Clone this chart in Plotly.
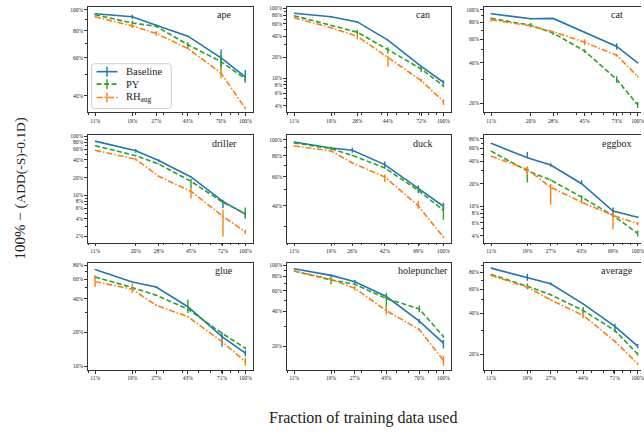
import math
import plotly.graph_objects as go

OBJECTS = ["ape", "can", "cat", "driller", "duck", "eggbox", "glue", "holepuncher", "average"]

X_TICKS = [
    [11, 19, 27, 43, 70, 100],
    [11, 19, 28, 44, 72, 100],
    [11, 20, 28, 45, 73, 100],
    [11, 20, 28, 45, 72, 100],
    [11, 19, 26, 42, 69, 100],
    [11, 19, 27, 43, 69, 100],
    [11, 19, 27, 43, 71, 100],
    [11, 19, 27, 43, 70, 100],
    [11, 19, 27, 44, 71, 100],
]

BASELINE = [
    [96, 93, 85, 75.6, 60, 49],
    [85.5, 76, 64, 35, 14.7, 8.7],
    [93, 85.4, 85.9, 67.5, 53, 40],
    [83, 57, 39, 20.5, 7.9, 4.8],
    [96.8, 89, 86.3, 70.8, 51, 39.8],
    [70, 44.7, 35.8, 20, 8.6, 7.1],
    [73.2, 56.6, 51, 34, 18.4, 13.1],
    [93, 81.6, 72, 53.7, 33, 21.4],
    [85.6, 72.7, 65.7, 46.8, 31.9, 22.9],
]
BASELINE_ERR_UP = [
    [0.5, 2, 0.5, 0.5, 5.6, 3.7],
    [0.5, 2, 2, 0.3, 0.3, 0.6],
    [0.5, 1, 0.5, 1, 3, 0.5],
    [0.5, 4, 2, 0.3, 0.5, 0.5],
    [0.5, 1.5, 3, 3, 2, 2],
    [0.5, 8.7, 2, 2.3, 1, 0.2],
    [0.5, 0.5, 1, 0.5, 1, 0.8],
    [0.5, 1.5, 2.5, 2, 1.5, 1.5],
    [0.5, 5, 1.5, 0.5, 1.5, 0.8],
]
BASELINE_ERR_DN = [
    [0.5, 2, 0.5, 0.5, 5.4, 2.4],
    [0.5, 2, 2, 0.3, 0.3, 0.6],
    [0.5, 1, 0.5, 1, 3, 0.5],
    [0.5, 4, 2, 0.3, 1.8, 0.8],
    [0.5, 1.5, 3, 3, 2, 2],
    [0.5, 0.2, 2, 0.2, 0.7, 0.2],
    [0.5, 0.5, 1, 0.5, 3.5, 0.8],
    [0.5, 1.5, 2.5, 2, 1.5, 2.2],
    [0.5, 3.5, 1.5, 0.5, 1.5, 0.8],
]

PY = [
    [95, 87, 84, 69, 57.6, 48],
    [78.6, 57.4, 45.6, 25.6, 13.5, 7.7],
    [86, 76.4, 66.7, 49, 30, 19.4],
    [69.5, 47, 34, 17.3, 7.6, 4.9],
    [95.5, 88.3, 80.5, 67.6, 49.6, 37.6],
    [54.9, 29.8, 22.4, 13.2, 7.5, 4.3],
    [62.6, 50.5, 43, 32.4, 19.7, 14.5],
    [88.9, 74.5, 68.4, 51.6, 42, 24.3],
    [76.9, 63, 54.6, 41.8, 29.8, 20],
]
PY_ERR_UP = [
    [0.5, 2, 0.5, 2, 4, 1.5],
    [0.5, 0.5, 3.5, 2, 1.1, 0.3],
    [1, 3, 2, 1.5, 1.7, 1],
    [0.5, 0.5, 0.5, 1.7, 0.3, 1.3],
    [0.5, 2, 0.5, 0.5, 2, 3],
    [0.5, 3.7, 0.5, 0.7, 0.3, 0.4],
    [2, 0.5, 0.5, 7, 0.5, 0.3],
    [0.5, 6, 0.5, 6, 3, 0.5],
    [0.5, 3, 0.5, 2.5, 1, 0.5],
]
PY_ERR_DN = [
    [0.5, 2, 0.5, 3, 5, 2],
    [0.5, 0.5, 3.5, 3, 1.3, 0.3],
    [1, 3, 2, 1.5, 1.7, 1],
    [0.5, 0.5, 0.5, 4, 0.3, 0.6],
    [0.5, 2, 0.5, 0.5, 2, 4.6],
    [0.5, 9, 0.5, 1.6, 0.3, 0.4],
    [2, 0.5, 0.5, 2.5, 0.5, 0.3],
    [0.5, 6, 0.5, 10, 2.6, 0.5],
    [0.5, 3, 0.5, 2.5, 1, 0.5],
]

RH_AUG = [
    [93, 84.4, 77.8, 66.3, 51, 35],
    [73.8, 52.8, 39.8, 19.7, 9.2, 4.6],
    [84, 75.5, 68.2, 57, 45.5, 31.6],
    [58, 41, 21, 11.7, 4.4, 2.4],
    [91.6, 85.5, 72.4, 59.7, 40, 26],
    [47, 31.3, 17.9, 11.3, 7.5, 5.8],
    [57, 48.7, 35, 27.7, 16.6, 11],
    [89, 75.5, 63.3, 40.6, 28, 15.2],
    [75.6, 62, 50, 38.5, 24.8, 17],
]
RH_ERR_UP = [
    [0.5, 2, 2, 0.5, 2.5, 0.3],
    [0.5, 0.5, 3, 1.3, 0.5, 0.3],
    [3, 0.5, 0.5, 3, 1, 0.5],
    [0.5, 2, 0.5, 1.6, 1.3, 0.2],
    [0.5, 1, 0.5, 2, 3, 0.3],
    [0.5, 3.2, 2, 0.5, 0.8, 0.3],
    [7, 6, 0.5, 0.5, 0.5, 0.9],
    [0.5, 2, 3, 4, 0.5, 1.5],
    [0.5, 1, 0.5, 2, 0.5, 0.3],
]
RH_ERR_DN = [
    [0.5, 2, 2, 0.5, 2.7, 0.3],
    [0.5, 0.5, 4, 5, 0.5, 0.5],
    [3, 0.5, 0.5, 3, 1, 0.5],
    [0.5, 2, 0.5, 2.8, 2.4, 0.2],
    [0.5, 1, 0.5, 4, 1.5, 0.3],
    [0.5, 5, 7.4, 0.5, 2.6, 0.3],
    [6, 3.5, 0.5, 0.5, 0.5, 0.9],
    [0.5, 2, 3, 3, 0.5, 1.5],
    [0.5, 1, 0.5, 2, 0.5, 0.3],
]

Y_TICKS = [
    [40, 60, 80, 100],
    [4, 6, 8, 10, 20, 40, 60, 80, 100],
    [20, 40, 60, 80, 100],
    [2, 4, 6, 8, 10, 20, 40, 60, 80, 100],
    [40, 60, 80, 100],
    [4, 6, 8, 10, 20, 40, 60, 80],
    [10, 20, 40, 60, 80],
    [20, 40, 60, 80, 100],
    [20, 40, 60, 80],
]
Y_LIMITS = [
    [33.5, 103.2],
    [3.2, 105],
    [17, 104.6],
    [1.56, 104],
    [24, 106],
    [3.2, 89.5],
    [9.2, 83.9],
    [12.5, 104.7],
    [15.2, 93.7],
]

SERIES = [
    ("Baseline", BASELINE, BASELINE_ERR_UP, BASELINE_ERR_DN, "#1f77b4", "solid"),
    ("PY", PY, PY_ERR_UP, PY_ERR_DN, "#2ca02c", "5px,2.5px"),
    ("RH<sub>aug</sub>", RH_AUG, RH_ERR_UP, RH_ERR_DN, "#ff7f0e", "6px,2px,1.5px,2px"),
]

W, H = 644, 432
FONT = "Liberation Serif"
COL_PX = [(88, 254), (288, 453), (486, 648)]
ROW_PX = [(5, 111), (134, 242), (262, 370)]

def px(x):
    return x / W

def py(y):
    return 1 - y / H

fig = go.Figure()
layout = dict(
    width=W, height=H, margin=dict(l=0, r=0, t=0, b=0),
    paper_bgcolor="white", plot_bgcolor="white",
    font=dict(family=FONT, size=6, color="#222"),
    showlegend=False,
)
annotations = []
shapes = []

def minor_vals(lo, hi):
    vals = []
    for e in range(-1, 3):
        for m in range(1, 10):
            v = m * 10 ** e
            if lo <= v <= hi:
                vals.append(v)
    return vals

for i, obj in enumerate(OBJECTS):
    r, c = divmod(i, 3)
    n = i + 1
    xs = X_TICKS[i]
    x0p, x1p = COL_PX[c]
    y0p, y1p = ROW_PX[r]
    full_len = x1p - x0p
    x1_vis = min(x1p, W)
    s = math.log10(max(xs) / min(xs))
    lo = math.log10(min(xs)) - 0.05 * s
    hi = math.log10(max(xs)) + 0.05 * s
    hi_vis = lo + (hi - lo) * (x1_vis - x0p) / full_len
    xname = "xaxis" if n == 1 else f"xaxis{n}"
    yname = "yaxis" if n == 1 else f"yaxis{n}"
    xref = "x" if n == 1 else f"x{n}"
    yref = "y" if n == 1 else f"y{n}"
    layout[xname] = dict(
        domain=[x0p / W, x1_vis / W], anchor=yref, type="log",
        range=[lo, hi_vis], tickvals=xs, ticktext=[f"{v}%" for v in xs],
        ticks="outside", ticklen=2.5, tickwidth=0.8, tickcolor="#333",
        showline=True, linecolor="#333", linewidth=1, mirror=True,
        showgrid=False, zeroline=False, tickfont=dict(size=5.5),
        ticklabeloverflow="allow",
        minor=dict(tickvals=minor_vals(10, 100), ticks="outside", ticklen=1.5,
                   tickwidth=0.6, tickcolor="#333", showgrid=False),
    )
    ylo, yhi = Y_LIMITS[i]
    layout[yname] = dict(
        domain=[1 - y1p / H, 1 - y0p / H], anchor=xref, type="log",
        range=[math.log10(ylo), math.log10(yhi)],
        tickvals=Y_TICKS[i], ticktext=[f"{v}%" for v in Y_TICKS[i]],
        ticks="outside", ticklen=2.5, tickwidth=0.8, tickcolor="#333",
        showline=True, linecolor="#333", linewidth=1, mirror=(c < 2),
        showgrid=False, zeroline=False, tickfont=dict(size=5.5),
        minor=dict(tickvals=minor_vals(ylo, yhi), ticks="outside", ticklen=1.5,
                   tickwidth=0.6, tickcolor="#333", showgrid=False),
    )
    for name, vals, up, dn, color, dash in SERIES:
        fig.add_trace(go.Scatter(
            x=xs, y=vals[i], mode="lines", name=name,
            xaxis=xref, yaxis=yref,
            line=dict(color=color, width=1.6, dash=dash),
            error_y=dict(type="data", symmetric=False, array=up[i], arrayminus=dn[i],
                         width=0, thickness=1.4, color=color),
        ))
    text_x = (full_len - 28.5) / (x1_vis - x0p)
    annotations.append(dict(
        text=obj, xref=f"{xref} domain", yref=f"{yref} domain",
        x=text_x, y=0.925, xanchor="center", yanchor="middle", showarrow=False,
        font=dict(family=FONT, size=10, color="#222"),
    ))

# legend box (drawn inside the "ape" panel, like the reference)
bx0, bx1, by0, by1, rad = 92, 172, 62, 107, 3
path = (f"M {px(bx0 + rad)} {py(by0)} L {px(bx1 - rad)} {py(by0)} "
        f"Q {px(bx1)} {py(by0)} {px(bx1)} {py(by0 + rad)} "
        f"L {px(bx1)} {py(by1 - rad)} Q {px(bx1)} {py(by1)} {px(bx1 - rad)} {py(by1)} "
        f"L {px(bx0 + rad)} {py(by1)} Q {px(bx0)} {py(by1)} {px(bx0)} {py(by1 - rad)} "
        f"L {px(bx0)} {py(by0 + rad)} Q {px(bx0)} {py(by0)} {px(bx0 + rad)} {py(by0)} Z")
shapes.append(dict(type="path", path=path, xref="paper", yref="paper",
                   fillcolor="rgba(255,255,255,0.85)", line=dict(color="#cccccc", width=1),
                   layer="above"))
LEGEND_Y = [70, 82.5, 96]
for (name, _, _, _, color, dash), ly in zip(SERIES, LEGEND_Y):
    shapes.append(dict(type="line", xref="paper", yref="paper",
                       x0=px(97), x1=px(118), y0=py(ly), y1=py(ly),
                       line=dict(color=color, width=1.6, dash=dash), layer="above"))
    shapes.append(dict(type="line", xref="paper", yref="paper",
                       x0=px(107.5), x1=px(107.5), y0=py(ly - 5), y1=py(ly + 5),
                       line=dict(color=color, width=1.4), layer="above"))
    annotations.append(dict(
        text=name, xref="paper", yref="paper", x=px(125), y=py(ly),
        xanchor="left", yanchor="middle", showarrow=False,
        font=dict(family=FONT, size=10.5, color="#222"),
    ))

annotations.append(dict(
    text="100% − (<span style='font-size:13.5px'>ADD(-S)-0.1D</span>)",
    xref="paper", yref="paper", x=px(21), y=py(187.5),
    xanchor="center", yanchor="middle", textangle=-90, showarrow=False,
    font=dict(family=FONT, size=15, color="#222"),
))
annotations.append(dict(
    text="Fraction of training data used",
    xref="paper", yref="paper", x=px(365), y=py(418),
    xanchor="center", yanchor="middle", showarrow=False,
    font=dict(family=FONT, size=16, color="#222"),
))
layout["annotations"] = annotations
layout["shapes"] = shapes
fig.update_layout(**layout)
fig.write_html("out.html", config={"displayModeBar": False},
               post_script="document.body.style.margin='0';document.body.style.overflow='hidden';")
